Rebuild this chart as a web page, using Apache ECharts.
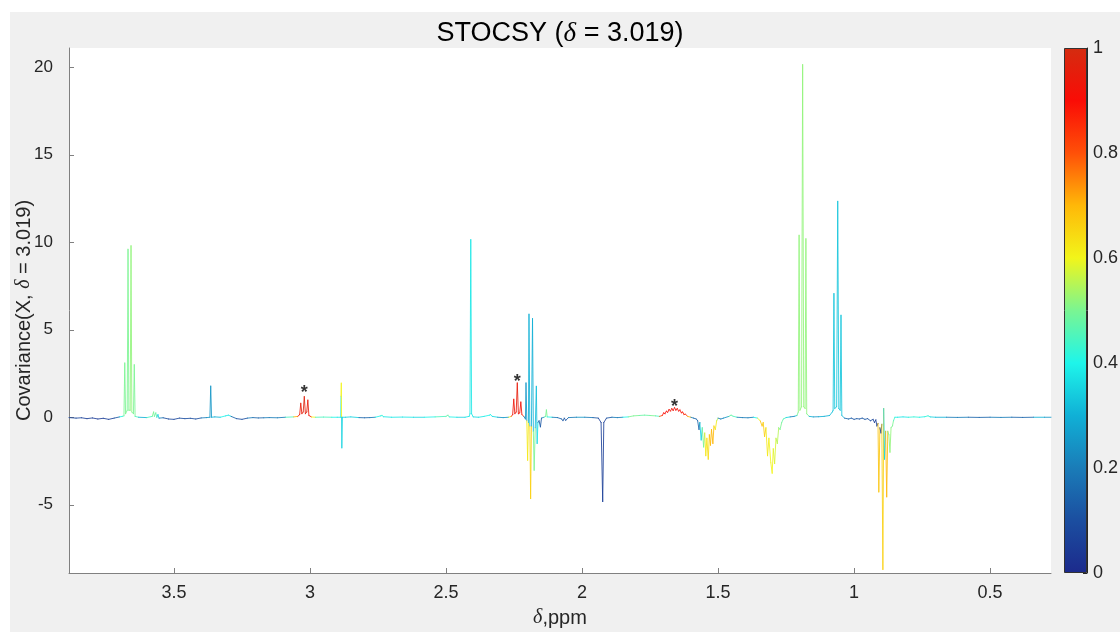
<!DOCTYPE html>
<html>
<head>
<meta charset="utf-8">
<script src="https://cdn.jsdelivr.net/npm/echarts@6/dist/echarts.min.js"></script>
<style>
html, body { margin: 0; padding: 0; background: #fff; }
#bg { position: absolute; left: 10px; top: 12px; width: 1110px; height: 620px; background: #f0f0f0; }
#main { position: absolute; left: 0; top: 0; width: 1120px; height: 632px; }
</style>
</head>
<body>
<div id="bg"></div>
<div id="main"></div>
<script>
// spectrum points: [ppm, covariance, correlation]
var part1 = [
  [3.886, -0.02, 0.10], [3.86, -0.05, 0.08], [3.84, -0.03, 0.12], [3.82, -0.08, 0.06], [3.80, -0.04, 0.10],
  [3.78, -0.10, 0.05], [3.76, -0.06, 0.08], [3.74, -0.12, 0.06], [3.72, -0.05, 0.12], [3.70, 0.02, 0.30],
  [3.69, 0.05, 0.40], [3.684, 0.08, 0.45], [3.681, 3.1, 0.50], [3.678, 0.2, 0.50], [3.672, 0.4, 0.50],
  [3.669, 9.6, 0.50], [3.666, 0.4, 0.50], [3.661, 0.4, 0.50], [3.658, 9.8, 0.52], [3.655, 0.3, 0.50],
  [3.649, 0.2, 0.50], [3.646, 3.0, 0.50], [3.643, 0.05, 0.45], [3.63, 0.0, 0.35], [3.60, -0.02, 0.30],
  [3.58, 0.05, 0.45], [3.575, 0.3, 0.50], [3.572, 0.05, 0.50], [3.567, 0.25, 0.48], [3.563, 0.0, 0.40],
  [3.559, 0.15, 0.35], [3.555, -0.05, 0.20], [3.54, -0.03, 0.15], [3.52, -0.10, 0.10], [3.50, -0.12, 0.08],
  [3.48, -0.05, 0.12], [3.46, -0.08, 0.10], [3.44, -0.06, 0.15], [3.42, -0.10, 0.10], [3.40, -0.04, 0.20],
  [3.38, -0.02, 0.25], [3.368, 0.0, 0.25], [3.365, 1.78, 0.25], [3.362, 0.0, 0.25], [3.35, 0.02, 0.30],
  [3.33, 0.0, 0.35], [3.31, 0.08, 0.40], [3.30, 0.12, 0.38], [3.29, 0.05, 0.35]
];
var part2 = [
  [3.27, -0.08, 0.15], [3.25, -0.12, 0.10], [3.23, -0.05, 0.20], [3.21, -0.02, 0.18], [3.19, -0.04, 0.15],
  [3.17, -0.03, 0.20], [3.15, -0.02, 0.22], [3.12, -0.03, 0.20], [3.09, 0.0, 0.30], [3.06, 0.02, 0.45],
  [3.045, 0.05, 0.70], [3.038, 0.15, 0.90], [3.034, 0.8, 0.95], [3.030, 0.2, 0.95], [3.025, 0.3, 0.95],
  [3.021, 1.18, 0.97], [3.017, 0.2, 0.95], [3.012, 0.3, 0.95], [3.008, 0.98, 0.95], [3.004, 0.1, 0.90],
  [2.995, 0.02, 0.60], [2.98, 0.0, 0.50], [2.95, 0.01, 0.45], [2.92, 0.0, 0.40], [2.90, 0.0, 0.38],
  [2.887, 0.0, 0.38], [2.886, 1.2, 0.38], [2.885, 1.95, 0.60], [2.884, 0.0, 0.38], [2.883, -1.75, 0.35],
  [2.881, 0.0, 0.35], [2.87, 0.0, 0.38], [2.85, 0.02, 0.35], [2.82, -0.02, 0.20], [2.80, -0.03, 0.15],
  [2.78, -0.02, 0.20], [2.76, 0.0, 0.30], [2.74, 0.08, 0.40], [2.735, 0.10, 0.42], [2.73, 0.03, 0.38],
  [2.70, 0.0, 0.35], [2.66, 0.01, 0.38], [2.62, 0.0, 0.36], [2.58, 0.0, 0.38], [2.54, 0.02, 0.40],
  [2.50, 0.05, 0.45], [2.493, 0.12, 0.48], [2.488, 0.02, 0.40], [2.46, 0.0, 0.35], [2.43, 0.0, 0.36],
  [2.415, 0.05, 0.38], [2.412, 0.2, 0.38], [2.409, 10.15, 0.38], [2.406, 0.2, 0.38], [2.40, 0.02, 0.36],
  [2.38, 0.0, 0.36], [2.36, 0.05, 0.38], [2.34, 0.12, 0.40], [2.336, 0.15, 0.40], [2.33, 0.05, 0.36],
  [2.31, 0.0, 0.30], [2.29, -0.02, 0.25], [2.27, 0.0, 0.30], [2.26, 0.05, 0.60]
];
var part3 = [
  [2.255, 0.15, 0.90], [2.251, 1.03, 0.93], [2.247, 0.2, 0.92], [2.242, 0.3, 0.92], [2.238, 1.96, 0.95],
  [2.234, 0.2, 0.92], [2.229, 0.25, 0.92], [2.225, 0.87, 0.92], [2.221, 0.15, 0.85], [2.214, 0.05, 0.30],
  [2.208, -0.1, 0.20], [2.206, 1.96, 0.25], [2.203, -0.2, 0.20], [2.200, -2.46, 0.62], [2.197, -0.3, 0.25],
  [2.195, 5.89, 0.30], [2.192, -0.5, 0.20], [2.189, -4.65, 0.66], [2.186, -0.5, 0.15], [2.182, 5.64, 0.30],
  [2.179, -0.8, 0.20], [2.176, -3.03, 0.50], [2.172, -0.6, 0.15], [2.168, 1.77, 0.32], [2.165, -1.5, 0.38],
  [2.162, -0.3, 0.20], [2.158, -0.2, 0.15], [2.153, -0.55, 0.12], [2.149, -0.05, 0.20], [2.14, 0.0, 0.30],
  [2.134, 0.05, 0.45], [2.131, 0.42, 0.50], [2.128, 0.02, 0.40], [2.11, 0.0, 0.30], [2.09, -0.02, 0.20],
  [2.075, -0.1, 0.15], [2.07, -0.2, 0.12], [2.065, -0.05, 0.15], [2.06, -0.18, 0.12], [2.05, -0.02, 0.20],
  [2.02, 0.0, 0.25], [1.99, 0.0, 0.25], [1.96, -0.02, 0.20], [1.94, -0.05, 0.12], [1.930, -0.3, 0.06],
  [1.924, -4.82, 0.06], [1.920, -0.3, 0.06], [1.91, -0.05, 0.12], [1.89, 0.0, 0.20], [1.87, -0.02, 0.20],
  [1.85, 0.0, 0.30], [1.83, 0.02, 0.40], [1.81, 0.08, 0.50], [1.79, 0.10, 0.50], [1.77, 0.12, 0.48],
  [1.75, 0.10, 0.50], [1.73, 0.08, 0.45], [1.715, 0.05, 0.50]
];
var part4 = [
  [1.705, 0.1, 0.80], [1.70, 0.25, 0.90], [1.695, 0.2, 0.90], [1.69, 0.35, 0.90], [1.685, 0.28, 0.90],
  [1.68, 0.45, 0.92], [1.675, 0.35, 0.92], [1.67, 0.5, 0.92], [1.665, 0.38, 0.92], [1.66, 0.55, 0.93],
  [1.655, 0.4, 0.92], [1.65, 0.5, 0.92], [1.645, 0.35, 0.90], [1.64, 0.42, 0.90], [1.635, 0.25, 0.90],
  [1.63, 0.3, 0.88], [1.625, 0.15, 0.88], [1.62, 0.18, 0.85], [1.612, 0.05, 0.70], [1.60, 0.0, 0.30],
  [1.59, -0.05, 0.20], [1.58, -0.1, 0.15], [1.575, -0.2, 0.15], [1.570, -0.7, 0.15], [1.567, -0.3, 0.20],
  [1.562, -1.3, 0.35], [1.558, -0.6, 0.40], [1.553, -1.7, 0.50], [1.549, -0.9, 0.55], [1.545, -2.2, 0.62],
  [1.541, -1.2, 0.62], [1.536, -2.4, 0.64], [1.532, -1.0, 0.65], [1.528, -1.6, 0.70], [1.524, -0.7, 0.68],
  [1.519, -1.5, 0.70], [1.515, -0.5, 0.66], [1.510, -0.7, 0.62], [1.505, -0.2, 0.55], [1.50, -0.05, 0.30],
  [1.49, -0.1, 0.20], [1.48, -0.05, 0.25], [1.46, 0.05, 0.40], [1.452, 0.12, 0.48], [1.445, 0.06, 0.45],
  [1.43, 0.0, 0.30], [1.41, -0.02, 0.20], [1.39, -0.03, 0.20], [1.37, 0.0, 0.25], [1.355, -0.05, 0.40],
  [1.345, -0.2, 0.60], [1.338, -0.5, 0.68], [1.334, -0.3, 0.68], [1.329, -1.1, 0.66], [1.324, -0.6, 0.64],
  [1.318, -2.2, 0.62], [1.313, -1.2, 0.62], [1.306, -2.6, 0.60], [1.301, -3.2, 0.60], [1.297, -1.8, 0.58],
  [1.292, -2.65, 0.58], [1.287, -1.2, 0.55], [1.282, -1.5, 0.55], [1.277, -0.6, 0.52], [1.272, -0.7, 0.50],
  [1.266, -0.3, 0.48], [1.26, -0.1, 0.45], [1.25, -0.02, 0.35], [1.235, 0.02, 0.25], [1.22, 0.05, 0.20],
  [1.21, 0.1, 0.30]
];
var part5 = [
  [1.205, 0.3, 0.50], [1.202, 10.4, 0.52], [1.199, 0.4, 0.52], [1.193, 0.6, 0.52], [1.189, 20.15, 0.52],
  [1.185, 0.6, 0.52], [1.180, 0.5, 0.52], [1.177, 10.2, 0.52], [1.174, 0.2, 0.50], [1.165, 0.05, 0.30],
  [1.15, 0.02, 0.25], [1.13, 0.03, 0.25], [1.11, 0.05, 0.30], [1.09, 0.1, 0.30], [1.08, 0.3, 0.32],
  [1.077, 0.4, 0.33], [1.074, 7.07, 0.33], [1.071, 0.5, 0.33], [1.064, 0.6, 0.33], [1.060, 12.34, 0.33],
  [1.056, 0.5, 0.33], [1.051, 0.4, 0.33], [1.048, 5.83, 0.33], [1.045, 0.1, 0.30], [1.035, -0.05, 0.20],
  [1.02, -0.1, 0.15], [1.01, -0.05, 0.20], [1.00, -0.12, 0.12], [0.99, -0.08, 0.15], [0.98, -0.1, 0.12],
  [0.97, -0.05, 0.15], [0.96, -0.12, 0.12], [0.95, -0.08, 0.15], [0.94, -0.2, 0.10], [0.93, -0.12, 0.10],
  [0.925, -0.3, 0.06], [0.920, -0.15, 0.08], [0.916, -0.5, 0.06], [0.912, -0.35, 0.08], [0.909, -4.27, 0.68],
  [0.905, -0.6, 0.10], [0.901, -0.9, 0.08], [0.898, -0.4, 0.10], [0.894, -8.7, 0.66], [0.891, 0.5, 0.05],
  [0.888, -2.4, 0.35], [0.884, -0.8, 0.30], [0.880, -4.55, 0.70], [0.876, -0.8, 0.45], [0.872, -1.0, 0.50],
  [0.868, -2.0, 0.52], [0.864, -0.6, 0.50], [0.859, -0.5, 0.50], [0.855, -0.2, 0.45], [0.850, 0.0, 0.40],
  [0.84, 0.0, 0.35], [0.82, 0.02, 0.38], [0.80, 0.0, 0.40], [0.78, 0.02, 0.42], [0.76, 0.0, 0.38],
  [0.74, 0.03, 0.40], [0.728, 0.08, 0.42], [0.72, 0.02, 0.35], [0.70, 0.0, 0.30], [0.66, 0.0, 0.30],
  [0.62, -0.01, 0.20], [0.58, 0.0, 0.30], [0.54, -0.01, 0.15], [0.50, 0.0, 0.30], [0.46, -0.01, 0.20],
  [0.42, 0.0, 0.30], [0.38, -0.01, 0.15], [0.34, 0.0, 0.30], [0.30, 0.0, 0.25], [0.276, 0.0, 0.30]
];

// asterisk markers
var starPpm = [3.021, 2.238, 1.66];
var starCov = [1.37, 2.0, 0.57];

var xTicks = [0.5, 1, 1.5, 2, 2.5, 3, 3.5];
var yTicks = [-5, 0, 5, 10, 15, 20];
var cbTicks = [0, 0.2, 0.4, 0.6, 0.8, 1];

var jet = ['#1c2a8c', '#1b4ea0', '#1a7cb8', '#10b0d6', '#1ef5ea', '#7af592',
           '#f2f51a', '#ffb808', '#ff5008', '#fa0c06', '#d42c10'];

var font = "'Liberation Sans', Arial, sans-serif";
var txt = '#262626';

var pts = part1.concat(part2, part3, part4, part5);
var segs = [];
for (var i = 0; i < pts.length - 1; i++) {
  var a = pts[i], b = pts[i + 1];
  var c = Math.abs(a[1]) >= Math.abs(b[1]) ? a[2] : b[2];
  segs.push([a[0], a[1], b[0], b[1], c]);
}
var stars = starPpm.map(function (p, k) { return [p, starCov[k]]; });

var stops = jet.map(function (col, k) { return { offset: k / (jet.length - 1), color: col }; });

var myChart = echarts.init(document.getElementById('main'));
var option = {
  animation: false,
  backgroundColor: 'transparent',
  textStyle: { fontFamily: font },
  title: {
    text: '{a|STOCSY (}{i|δ}{a| = 3.019)}',
    left: 'center',
    top: 15,
    textStyle: {
      fontWeight: 'normal',
      rich: {
        a: { fontSize: 27, color: '#000', fontWeight: 'normal', fontFamily: font },
        i: { fontSize: 27, color: '#000', fontWeight: 'normal', fontStyle: 'italic', fontFamily: "'Liberation Serif', serif" }
      }
    }
  },
  grid: [
    { left: 69, top: 48, width: 982, height: 525, show: true, backgroundColor: '#fff', borderWidth: 0, outerBoundsMode: 'none' },
    { left: 1064, top: 48, width: 23, height: 525, outerBoundsMode: 'none' }
  ],
  visualMap: {
    type: 'continuous',
    show: false,
    seriesIndex: 0,
    dimension: 4,
    min: 0,
    max: 1,
    inRange: { color: jet }
  },
  xAxis: [
    {
      type: 'value', gridIndex: 0, min: 0.276, max: 3.886, inverse: true,
      axisLine: { show: true, onZero: false, lineStyle: { color: '#808080', width: 1 } },
      axisTick: { show: true, inside: true, length: 5, customValues: xTicks, lineStyle: { color: '#808080' } },
      axisLabel: { customValues: xTicks, fontSize: 18, color: txt, margin: 11, fontFamily: font },
      splitLine: { show: false },
      name: '{i|δ}{a|,ppm}',
      nameLocation: 'middle',
      nameGap: 35,
      nameMoveOverlap: false,
      nameTextStyle: {
        rich: {
          a: { fontSize: 20, color: txt, fontFamily: font },
          i: { fontSize: 20, color: txt, fontStyle: 'italic', fontFamily: "'Liberation Serif', serif" }
        }
      }
    },
    { type: 'category', gridIndex: 1, data: [''], show: false }
  ],
  yAxis: [
    {
      type: 'value', gridIndex: 0, min: -8.9, max: 21.1,
      axisLine: { show: true, lineStyle: { color: '#808080', width: 1 } },
      axisTick: { show: true, inside: true, length: 5, customValues: yTicks, lineStyle: { color: '#808080' } },
      axisLabel: { customValues: yTicks, fontSize: 17, color: txt, margin: 16, fontFamily: font },
      splitLine: { show: false },
      name: '{a|Covariance(X, }{i|δ}{a| = 3.019)}',
      nameLocation: 'middle',
      nameRotate: 90,
      nameGap: 35,
      nameMoveOverlap: false,
      nameTextStyle: {
        rich: {
          a: { fontSize: 20, color: txt, fontFamily: font },
          i: { fontSize: 20, color: txt, fontStyle: 'italic', fontFamily: "'Liberation Serif', serif" }
        }
      }
    },
    {
      type: 'value', gridIndex: 1, min: 0, max: 1, position: 'right',
      axisLine: { show: true, lineStyle: { color: '#262626', width: 1 } },
      axisTick: { show: true, inside: true, length: 4, customValues: cbTicks, lineStyle: { color: '#262626' } },
      axisLabel: { customValues: cbTicks, fontSize: 18, color: txt, margin: 6, fontFamily: font },
      splitLine: { show: false }
    }
  ],
  series: [
    {
      type: 'custom',
      xAxisIndex: 0,
      yAxisIndex: 0,
      silent: true,
      data: segs,
      encode: { x: [0, 2], y: [1, 3] },
      renderItem: function (params, api) {
        var p1 = api.coord([api.value(0), api.value(1)]);
        var p2 = api.coord([api.value(2), api.value(3)]);
        return {
          type: 'line',
          shape: { x1: p1[0], y1: p1[1], x2: p2[0], y2: p2[1] },
          style: { stroke: api.visual('color'), lineWidth: 1, lineCap: 'round', opacity: 0.85 }
        };
      }
    },
    {
      type: 'scatter',
      xAxisIndex: 0,
      yAxisIndex: 0,
      silent: true,
      symbolSize: 0,
      data: stars,
      label: {
        show: true,
        position: 'inside',
        formatter: '*',
        fontSize: 18,
        fontWeight: 'bold',
        color: '#000',
        fontFamily: font
      }
    },
    {
      type: 'bar',
      xAxisIndex: 1,
      yAxisIndex: 1,
      silent: true,
      barWidth: '100%',
      data: [1],
      itemStyle: {
        color: new echarts.graphic.LinearGradient(0, 1, 0, 0, stops),
        borderColor: '#333',
        borderWidth: 1
      }
    }
  ]
};
option && myChart.setOption(option);
</script>
</body>
</html>
